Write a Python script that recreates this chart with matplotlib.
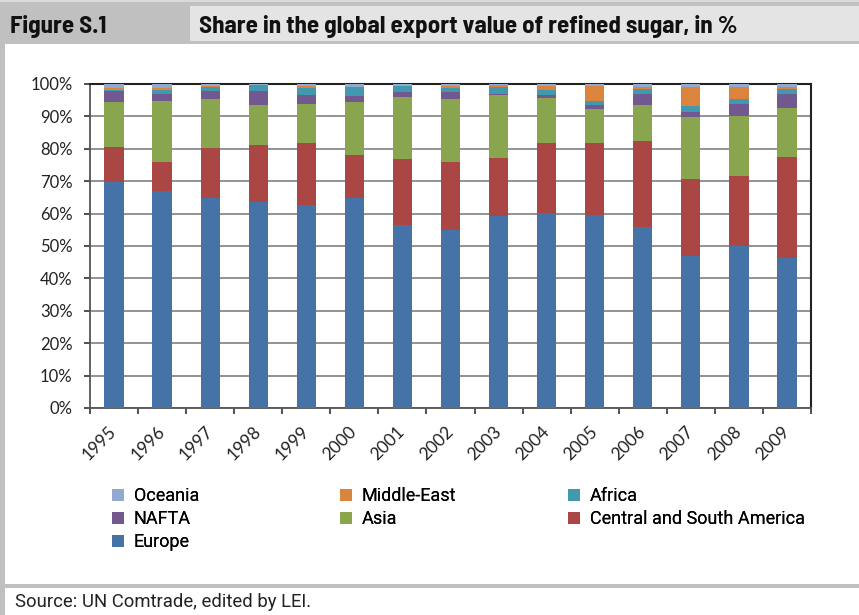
import numpy as np
import matplotlib
matplotlib.use("Agg")
import matplotlib.pyplot as plt
from matplotlib.patches import Rectangle
from matplotlib.ticker import FuncFormatter

years = [str(y) for y in range(1995, 2010)]

# shares in %, stacked bottom -> top
europe = [69.6, 67.0, 64.8, 63.5, 62.7, 64.8, 56.4, 54.8, 59.2, 60.1, 59.5, 56.0, 47.0, 50.1, 46.4]
central_south_america = [11.1, 9.0, 15.3, 17.8, 19.0, 13.4, 20.3, 21.2, 18.1, 21.6, 22.2, 26.3, 23.7, 21.6, 31.2]
asia = [13.8, 18.8, 15.3, 12.2, 12.1, 16.3, 19.3, 19.5, 19.4, 14.0, 10.6, 11.2, 19.1, 18.4, 15.0]
nafta = [3.2, 2.2, 2.5, 4.4, 2.9, 1.8, 1.6, 1.9, 0.3, 1.0, 1.2, 3.5, 1.5, 3.7, 4.4]
africa = [0.6, 1.2, 1.3, 1.9, 2.2, 2.7, 1.7, 1.5, 2.0, 1.5, 1.3, 1.5, 1.9, 1.6, 1.5]
middle_east = [0.6, 0.6, 0.1, 0.0, 0.6, 0.0, 0.0, 0.6, 0.6, 1.2, 4.6, 0.6, 5.9, 3.8, 0.6]
oceania = [1.1, 1.2, 0.8, 0.4, 0.6, 1.0, 0.7, 0.6, 0.6, 0.6, 0.6, 0.9, 0.9, 0.9, 0.9]

series = [
    ("Europe", europe, "#4572A7"),
    ("Central and South America", central_south_america, "#AA4643"),
    ("Asia", asia, "#89A54E"),
    ("NAFTA", nafta, "#71588F"),
    ("Africa", africa, "#4198AF"),
    ("Middle-East", middle_east, "#DB843D"),
    ("Oceania", oceania, "#93A9CF"),
]
legend_columns = [
    ["Oceania", "NAFTA", "Europe"],
    ["Middle-East", "Asia"],
    ["Africa", "Central and South America"],
]

W, H = 859, 615
narrow_bold = ["Barlow Semi Condensed", "Roboto Condensed", "Roboto", "DejaVu Sans"]
plain = ["Roboto", "DejaVu Sans"]
plt.rcParams["font.family"] = ["Lato", "DejaVu Sans"]

fig = plt.figure(figsize=(W / 100, H / 100), dpi=100)
fig.patch.set_facecolor("white")


def px_rect(x0, y0, x1, y1, color):
    # rectangle in pixel coordinates (top-left origin)
    fig.add_artist(Rectangle((x0 / W, 1 - y1 / H), (x1 - x0) / W, (y1 - y0) / H,
                             transform=fig.transFigure, facecolor=color,
                             edgecolor="none", zorder=0))


# header and frame
px_rect(0, 0, W, 2, "#DADADA")
px_rect(0, 2, W, 44, "#C0C0C0")
px_rect(190, 6, W, 41, "#E4E4E4")
px_rect(0, 44, 5, H, "#C0C0C0")
px_rect(5, 584, W, 588, "#C0C0C0")

fig.text(10 / W, 1 - 26 / H, "Figure S.1", family=narrow_bold, fontweight="bold",
         fontsize=18, va="center", ha="left", color="#111111")
fig.text(199 / W, 1 - 26 / H, "Share in the global export value of refined sugar, in %",
         family=narrow_bold, fontweight="bold", fontsize=18, va="center", ha="left",
         color="#111111")
fig.text(15 / W, 1 - 602 / H, "Source: UN Comtrade, edited by LEI.", family=plain,
         fontsize=13.3, va="center", ha="left", color="#222222")

ax = fig.add_axes([90 / W, 1 - 408 / H, 721 / W, 324 / H])
x = np.arange(len(years))
bottom = np.zeros(len(years))
handles = {}
for name, vals, color in series:
    vals = np.array(vals)
    bars = ax.bar(x, vals, width=0.4, bottom=bottom, color=color, label=name,
                  zorder=3, linewidth=0)
    handles[name] = bars
    bottom += vals

ax.set_xlim(-0.5, len(years) - 0.5)
ax.set_ylim(0, 100)
ax.set_yticks(np.arange(0, 101, 10))
ax.yaxis.set_major_formatter(FuncFormatter(lambda v, p: f"{int(v)}%"))
ax.grid(axis="y", color="#8A8A8A", linewidth=1.3, zorder=1)
ax.set_axisbelow(True)

ax.set_xticks(np.arange(-0.5, len(years), 1.0))
ax.set_xticklabels([])
ax.set_xticks(x, minor=True)
ax.set_xticklabels(years, minor=True, rotation=45, ha="right", va="center",
                   rotation_mode="anchor", fontsize=12.5, color="#222222")
ax.tick_params(axis="x", which="major", length=4.5, width=1.2, color="#333333", direction="out")
ax.tick_params(axis="x", which="minor", length=0, pad=15)
ax.tick_params(axis="y", length=4.5, width=1.2, color="#333333", labelsize=12,
               labelcolor="#222222", pad=8)
for side in ["left", "bottom"]:
    ax.spines[side].set_color("#555555")
    ax.spines[side].set_linewidth(1.3)
for side in ["top", "right"]:
    ax.spines[side].set_color("#222222")
    ax.spines[side].set_linewidth(1.5)

# one legend per column so the columns sit where the reference has them
for col_x, names in zip([112, 340, 568], legend_columns):
    leg = fig.legend([handles[n] for n in names], names, loc="upper left",
                     bbox_to_anchor=(col_x / W, 1 - 487 / H), frameon=False,
                     prop={"family": plain, "size": 13},
                     handlelength=0.65, handleheight=0.65, handletextpad=0.55,
                     labelspacing=0.29, borderaxespad=0, borderpad=0)
    fig.add_artist(leg)

fig.savefig("out.png", dpi=100, facecolor=fig.get_facecolor())
